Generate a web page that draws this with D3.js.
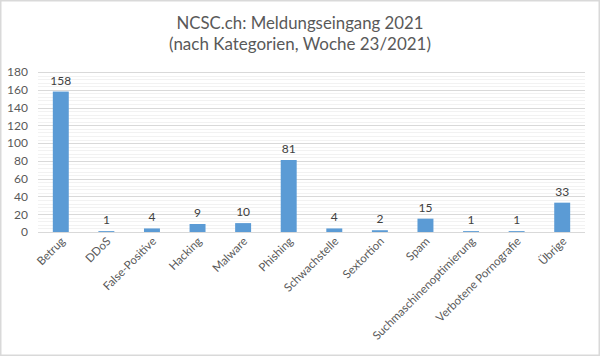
<!DOCTYPE html>
<html><head><meta charset="utf-8">
<script src="https://cdn.jsdelivr.net/npm/d3@7"></script>
<style>body{margin:0;background:#fff}svg{display:block}</style>
</head><body>
<script>
const categories = ["Betrug","DDoS","False-Positive","Hacking","Malware","Phishing","Schwachstelle","Sextortion","Spam","Suchmaschinenoptimierung","Verbotene Pornografie","Übrige"];
const values = [158,1,4,9,10,81,4,2,15,1,1,33];
const yTicks = [0,20,40,60,80,100,120,140,160,180];
const titleLines = ["NCSC.ch: Meldungseingang 2021","(nach Kategorien, Woche 23/2021)"];

const W=600,H=356;
const m={left:38,right:15,top:72,bottom:124};
const font="Lato, 'Open Sans', sans-serif";
const svg=d3.select("body").append("svg").attr("width",W).attr("height",H);
svg.append("rect").attr("x",0.75).attr("y",0.75).attr("width",W-1.5).attr("height",H-1.5).attr("fill","#fff").attr("stroke","#d9d9d9").attr("stroke-width",1.5);

const x=d3.scaleBand().domain(categories).range([m.left,W-m.right]).paddingInner(0.65).paddingOuter(0.325);
const y=d3.scaleLinear().domain([0,180]).range([H-m.bottom,m.top]);

const minor=d3.range(0,181,4);
svg.append("g").selectAll("line").data(minor).join("line")
 .attr("x1",m.left).attr("x2",W-m.right).attr("y1",d=>Math.round(y(d))+0.5).attr("y2",d=>Math.round(y(d))+0.5)
 .attr("stroke","#f2f2f2").attr("stroke-width",1);
svg.append("g").selectAll("line").data(yTicks).join("line")
 .attr("x1",m.left).attr("x2",W-m.right).attr("y1",d=>Math.round(y(d))+0.5).attr("y2",d=>Math.round(y(d))+0.5)
 .attr("stroke","#d9d9d9").attr("stroke-width",1);

const yAxis=svg.append("g").attr("transform",`translate(${m.left},0)`)
 .call(d3.axisLeft(y).tickValues(yTicks).tickSize(0).tickPadding(10));
yAxis.select(".domain").remove();
yAxis.selectAll("text").attr("fill","#595959").style("font-family",font).style("font-size","12px");

svg.append("g").selectAll("rect").data(values).join("rect")
 .attr("x",(d,i)=>x(categories[i])).attr("width",x.bandwidth())
 .attr("y",d=>y(d)).attr("height",d=>y(0)-y(d)).attr("fill","#5b9bd5");

svg.append("g").selectAll("text").data(values).join("text")
 .attr("x",(d,i)=>x(categories[i])+x.bandwidth()/2).attr("y",d=>y(d)-7)
 .attr("text-anchor","middle").attr("fill","#404040").style("font-family",font).style("font-size","12px")
 .text(d=>d);

const xAxis=svg.append("g").attr("transform",`translate(0,${y(0)})`)
 .call(d3.axisBottom(x).tickSize(0));
xAxis.select(".domain").remove();
xAxis.selectAll("text").attr("fill","#595959").style("font-family",font).style("font-size","11.5px")
 .attr("text-anchor","end").attr("dy","0").attr("y",0)
 .attr("transform","translate(5,10) rotate(-45)");

const titleLen=[247,262];
svg.append("g").selectAll("text").data(titleLines).join("text")
 .attr("x",W/2).attr("y",(d,i)=>29+i*21).attr("text-anchor","middle")
 .attr("textLength",(d,i)=>titleLen[i]).attr("lengthAdjust","spacingAndGlyphs")
 .attr("fill","#595959").style("font-family",font).style("font-size","17.5px").text(d=>d);
</script>
</body></html>
